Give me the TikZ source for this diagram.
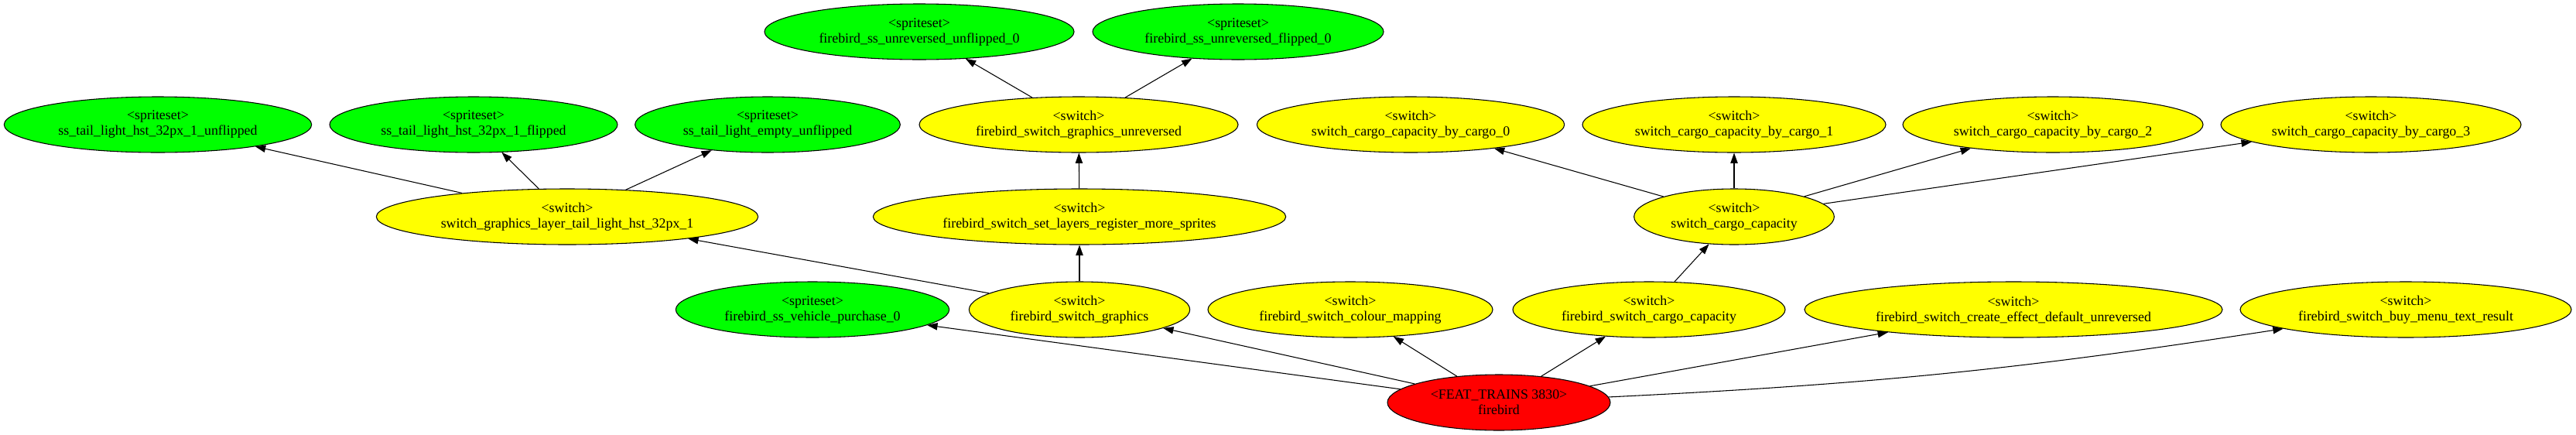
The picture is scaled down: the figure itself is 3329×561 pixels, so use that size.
\documentclass[tikz,border=0pt]{standalone}
\usepackage{fontspec}
\setmainfont{Liberation Serif}
\usetikzlibrary{shapes.geometric,arrows.meta}
\definecolor{gvgreen}{RGB}{0,255,0}
\definecolor{gvyellow}{RGB}{255,255,0}
\definecolor{gvred}{RGB}{255,0,0}

\begin{document}
\begin{tikzpicture}[x=0.75pt, y=-0.75pt,
        every node/.style={font=\fontsize{13.4}{15}\selectfont},
        gnode/.style={ellipse, draw=black, line width=0.8pt, inner sep=0pt,
            minimum height=54pt, align=center},
        sprite/.style={gnode, fill=gvgreen},
        switchnode/.style={gnode, fill=gvyellow},
        featnode/.style={gnode, fill=gvred},
        link/.style={draw=black, line width=0.8pt, -{Triangle[length=10pt,width=7pt]}}]
        \useasboundingbox (0,0) rectangle (3329,561);

        % top row
        \node[sprite, minimum width=300pt] (ssunrevunfl) at (1188,41) {<spriteset>\\firebird\_ss\_unreversed\_unflipped\_0};
        \node[sprite, minimum width=282pt] (ssunrevfl) at (1600,41) {<spriteset>\\firebird\_ss\_unreversed\_flipped\_0};

        % second row
        \node[sprite, minimum width=298pt] (sstailunfl) at (204,161) {<spriteset>\\ss\_tail\_light\_hst\_32px\_1\_unflipped};
        \node[sprite, minimum width=279pt] (sstailfl) at (612,161) {<spriteset>\\ss\_tail\_light\_hst\_32px\_1\_flipped};
        \node[sprite, minimum width=257pt] (sstailempty) at (992,161) {<spriteset>\\ss\_tail\_light\_empty\_unflipped};
        \node[switchnode, minimum width=309pt] (swgfxunrev) at (1394,161) {<switch>\\firebird\_switch\_graphics\_unreversed};
        \node[switchnode, minimum width=298pt] (swcargo0) at (1823,161) {<switch>\\switch\_cargo\_capacity\_by\_cargo\_0};
        \node[switchnode, minimum width=294pt] (swcargo1) at (2241,161) {<switch>\\switch\_cargo\_capacity\_by\_cargo\_1};
        \node[switchnode, minimum width=291pt] (swcargo2) at (2653,161) {<switch>\\switch\_cargo\_capacity\_by\_cargo\_2};
        \node[switchnode, minimum width=291pt] (swcargo3) at (3064,161) {<switch>\\switch\_cargo\_capacity\_by\_cargo\_3};

        % third row
        \node[switchnode, minimum width=370pt] (swgfxlayer) at (733,280) {<switch>\\switch\_graphics\_layer\_tail\_light\_hst\_32px\_1};
        \node[switchnode, minimum width=400pt] (swsetlayers) at (1395,280) {<switch>\\firebird\_switch\_set\_layers\_register\_more\_sprites};
        \node[switchnode, minimum width=194pt] (swcargocap) at (2241,280) {<switch>\\switch\_cargo\_capacity};

        % fourth row
        \node[sprite, minimum width=265pt] (sspurchase) at (1050,400) {<spriteset>\\firebird\_ss\_vehicle\_purchase\_0};
        \node[switchnode, minimum width=214pt] (swgraphics) at (1395,400) {<switch>\\firebird\_switch\_graphics};
        \node[switchnode, minimum width=276pt] (swcolour) at (1745,400) {<switch>\\firebird\_switch\_colour\_mapping};
        \node[switchnode, minimum width=264pt] (swfbcargocap) at (2131,400) {<switch>\\firebird\_switch\_cargo\_capacity};
        \node[switchnode, minimum width=405pt] (sweffect) at (2602,400) {<switch>\\firebird\_switch\_create\_effect\_default\_unreversed};
        \node[switchnode, minimum width=321pt] (swbuymenu) at (3109,400) {<switch>\\firebird\_switch\_buy\_menu\_text\_result};

        % root
        \node[featnode, minimum width=216pt] (feat) at (1937,520) {<FEAT\_TRAINS 3830>\\firebird};

        \draw[link] (feat) -- (sspurchase);
        \draw[link] (feat) -- (swgraphics);
        \draw[link] (feat) -- (swcolour);
        \draw[link] (feat) -- (swfbcargocap);
        \draw[link] (feat) -- (sweffect);
        \draw[link] (feat) to[bend right=3] (swbuymenu);

        \draw[link] (swgraphics) -- (swgfxlayer);
        \draw[link] (swgraphics) -- (swsetlayers);
        \draw[link] (swsetlayers) -- (swgfxunrev);
        \draw[link] (swgfxunrev) -- (ssunrevunfl);
        \draw[link] (swgfxunrev) -- (ssunrevfl);

        \draw[link] (swgfxlayer) -- (sstailunfl);
        \draw[link] (swgfxlayer) -- (sstailfl);
        \draw[link] (swgfxlayer) -- (sstailempty);

        \draw[link] (swfbcargocap) -- (swcargocap);
        \foreach \n in {0,1,2,3}
            \draw[link] (swcargocap) -- (swcargo\n);
    \end{tikzpicture}
\end{document}
